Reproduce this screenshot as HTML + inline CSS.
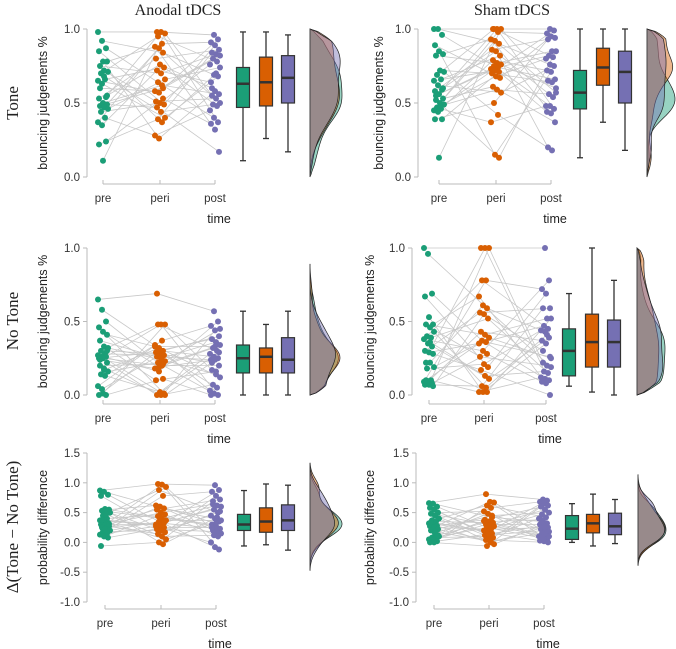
<!DOCTYPE html>
<html><head><meta charset="utf-8"><style>
html,body{margin:0;padding:0;background:#fff}
svg{display:block}
</style></head><body>
<svg id="chart" width="676" height="649" viewBox="0 0 676 649" xmlns="http://www.w3.org/2000/svg" font-family="Liberation Sans, sans-serif">
<text x="178" y="15" font-family="Liberation Serif, serif" font-size="16" text-anchor="middle" fill="#222">Anodal tDCS</text>
<text x="512" y="15" font-family="Liberation Serif, serif" font-size="16" text-anchor="middle" fill="#222">Sham tDCS</text>
<text transform="translate(18,103) rotate(-90)" font-family="Liberation Serif, serif" font-size="17" text-anchor="middle" fill="#222">Tone</text>
<text transform="translate(18,321) rotate(-90)" font-family="Liberation Serif, serif" font-size="17" text-anchor="middle" fill="#222">No Tone</text>
<text transform="translate(18,527) rotate(-90)" font-family="Liberation Serif, serif" font-size="17" text-anchor="middle" fill="#222">Δ(Tone − No Tone)</text>
</svg>
<script>
const groups = ["pre","peri","post"];
const colors = ["#1b9e77","#d95f02","#7570b3"];

// Anodal Tone
const aTonePre  = [.98,.92,.87,.85,.78,.78,.75,.72,.71,.7,.66,.65,.63,.54,.53,.5,.49,.48,.47,.46,.44,.4,.37,.35,.24,.22,.11,.55,.6,.68];
const aTonePeri = [.98,.98,.97,.95,.9,.88,.87,.84,.8,.76,.74,.72,.7,.66,.64,.62,.58,.57,.53,.51,.5,.49,.47,.44,.4,.39,.37,.28,.26,.6];
const aTonePost = [.96,.93,.91,.89,.86,.84,.83,.82,.8,.78,.76,.69,.68,.64,.58,.56,.55,.53,.5,.49,.48,.45,.4,.37,.36,.32,.17,.6,.7,.74];
const aToneBox  = [[0.11,0.47,0.63,0.74,0.98],[0.26,0.48,0.64,0.81,0.98],[0.17,0.50,0.67,0.82,0.96]];
// Anodal No Tone
const aNoPre  = [.65,.58,.5,.46,.43,.41,.37,.33,.32,.3,.28,.27,.26,.26,.25,.25,.22,.2,.17,.16,.14,.13,.06,.04,0,0,.01,.3,.24,.18];
const aNoPeri = [.69,.48,.48,.48,.37,.33,.32,.3,.29,.28,.27,.26,.25,.23,.22,.2,.18,.16,.11,.1,.02,.01,0,0,0,.3,.24,.34,.19,.21];
const aNoPost = [.57,.5,.47,.44,.4,.38,.36,.34,.32,.3,.28,.26,.25,.24,.24,.2,.17,.16,.12,.07,.05,.03,.01,0,0,.33,.29,.22,.14,.45];
const aNoBox  = [[0,0.15,0.25,0.34,0.57],[0,0.15,0.26,0.32,0.48],[0,0.15,0.24,0.39,0.57]];
// Anodal Delta
const aDPre  = [.87,.85,.8,.78,.56,.55,.53,.52,.5,.45,.4,.37,.35,.33,.3,.29,.27,.25,.23,.2,.18,.15,.13,.1,.08,-.06,.22,.31,.38,.47];
const aDPeri = [.98,.97,.93,.88,.78,.62,.6,.57,.55,.5,.47,.44,.4,.37,.35,.32,.3,.28,.25,.22,.2,.17,.14,.1,.05,0,-.03,.27,.42,.33];
const aDPost = [.96,.88,.85,.78,.72,.69,.62,.6,.55,.5,.45,.4,.35,.3,.27,.23,.2,.18,.15,.12,.1,0,-.08,-.12,.25,.32,.52,.64,.42,.37];
const aDBox  = [[-0.06,0.2,0.3,0.47,0.87],[-0.04,0.17,0.35,0.58,0.98],[-0.13,0.2,0.37,0.63,0.96]];
// Sham Tone
const sTonePre  = [1,1,.96,.89,.85,.83,.82,.72,.71,.69,.66,.65,.62,.59,.58,.56,.53,.52,.5,.49,.47,.46,.45,.44,.39,.39,.13,.6,.55,.48];
const sTonePeri = [1,1,1,1,.98,.93,.92,.9,.86,.85,.82,.79,.77,.76,.75,.74,.73,.72,.71,.7,.68,.67,.61,.59,.57,.5,.42,.37,.15,.13];
const sTonePost = [1,.99,.97,.95,.94,.93,.85,.85,.82,.81,.8,.76,.75,.72,.71,.66,.65,.64,.57,.56,.54,.48,.48,.46,.44,.43,.37,.2,.18,.6];
const sToneBox  = [[0.13,0.46,0.57,0.72,1],[0.37,0.62,0.74,0.87,1],[0.18,0.5,0.71,0.85,1]];
// Sham No Tone
const sNoPre  = [1,.96,.69,.67,.53,.48,.48,.46,.43,.4,.39,.38,.35,.33,.3,.29,.28,.22,.22,.19,.18,.1,.09,.09,.08,.07,.07,.06,.1,.36];
const sNoPeri = [1,1,1,.78,.78,.67,.61,.59,.56,.55,.52,.43,.41,.39,.37,.36,.35,.3,.28,.26,.21,.19,.17,.13,.11,.06,.05,.02,.02,.02];
const sNoPost = [1,.78,.72,.69,.59,.59,.52,.52,.47,.45,.44,.43,.39,.37,.35,.26,.22,.2,.19,.16,.15,.12,.11,.1,.09,.08,0,.3,.41,.25];
const sNoBox  = [[0.06,0.13,0.3,0.45,0.69],[0.02,0.19,0.36,0.55,1],[0,0.19,0.36,0.51,0.78]];
// Sham Delta
const sDPre  = [.66,.65,.6,.58,.55,.5,.48,.45,.4,.37,.35,.32,.3,.28,.27,.25,.22,.2,.15,.1,.08,.07,.05,.04,.02,0,0,.12,.34,.18];
const sDPeri = [.81,.68,.67,.62,.58,.52,.48,.42,.38,.35,.33,.3,.29,.27,.25,.22,.2,.18,.15,.12,.1,.08,.04,.02,-.03,-.06,0,.36,.14,.45];
const sDPost = [.72,.7,.68,.65,.62,.6,.55,.5,.47,.42,.4,.35,.32,.3,.28,.25,.22,.2,.18,.15,.12,.1,.07,.05,.03,.02,0,.38,.26,.1];
const sDBox  = [[0,0.05,0.23,0.45,0.65],[-0.06,0.16,0.32,0.47,0.81],[-0.02,0.13,0.27,0.49,0.72]];

const probTicks = [0,0.5,1.0];
const diffTicks = [-1.0,-0.5,0,0.5,1.0,1.5];

const panels = [
 {name:"anodal-tone", data:[aTonePre,aTonePeri,aTonePost], box:aToneBox, ticks:probTicks, clip:true, ylab:"bouncing judgements %", L:{ax:87,yTop:29,yBot:177,xs:[103,160,215],bx:[243,266,288],dx:310,xaxisY:184,ylabX:47,bw:0.1,dw:32}},
 {name:"anodal-no-tone", data:[aNoPre,aNoPeri,aNoPost], box:aNoBox, ticks:probTicks, clip:true, ylab:"bouncing judgements %", L:{ax:87,yTop:248,yBot:395,xs:[103,160,215],bx:[243,266,288],dx:310,xaxisY:404,ylabX:47,bw:0.08,dw:30}},
 {name:"anodal-delta", data:[aDPre,aDPeri,aDPost], box:aDBox, ticks:diffTicks, clip:false, ylab:"probability difference", L:{ax:87,yTop:453,yBot:602,xs:[105,161,216],bx:[244,266,288],dx:310,xaxisY:609,ylabX:47,bw:0.14,dw:32}},
 {name:"sham-tone", data:[sTonePre,sTonePeri,sTonePost], box:sToneBox, ticks:probTicks, clip:true, ylab:"bouncing judgements %", L:{ax:418,yTop:29,yBot:177,xs:[439,496,551],bx:[580,603,625],dx:647,xaxisY:184,ylabX:383,bw:0.08,dw:28}},
 {name:"sham-no-tone", data:[sNoPre,sNoPeri,sNoPost], box:sNoBox, ticks:probTicks, clip:true, ylab:"bouncing judgements %", L:{ax:412,yTop:248,yBot:395,xs:[429,484,546],bx:[569,592,614],dx:637,xaxisY:404,ylabX:374,bw:0.11,dw:28}},
 {name:"sham-delta", data:[sDPre,sDPeri,sDPost], box:sDBox, ticks:diffTicks, clip:false, ylab:"probability difference", L:{ax:416,yTop:453,yBot:602,xs:[434,489,544],bx:[572,593,615],dx:638,xaxisY:609,ylabX:374,bw:0.13,dw:28}}
];

const svg = document.getElementById("chart");
const NS = "http://www.w3.org/2000/svg";
function mk(tag, attrs, parent){
  const e = document.createElementNS(NS, tag);
  for (const k in attrs) e.setAttribute(k, attrs[k]);
  (parent||svg).appendChild(e);
  return e;
}

panels.forEach(p => {
  const L = p.L;
  const tmin = p.ticks[0], tmax = p.ticks[p.ticks.length-1];
  const y = v => L.yBot - (v - tmin) / (tmax - tmin) * (L.yBot - L.yTop);
  const g = mk("g", {});
  
  

  const ya = mk("line", {x1:L.ax, x2:L.ax, y1:y(tmax), y2:y(tmin), stroke:"#bbb", "stroke-width":1}, g);
  
  
  p.ticks.forEach(t => {
    const tk = mk("line", {x1:L.ax-4, x2:L.ax, y1:y(t), y2:y(t), stroke:"#bbb"}, g);
    
    
    const tl = mk("text", {x:L.ax-7, y:y(t)+4, "font-size":11.5, "text-anchor":"end", fill:"#333"}, g);
    
    
    tl.textContent = t.toFixed(1);
  });
  const yl = mk("text", {transform:`translate(${L.ylabX},${(L.yTop+L.yBot)/2}) rotate(-90)`, "font-size":12.5, "text-anchor":"middle", fill:"#222"}, g);
  
  
  yl.textContent = p.ylab;

  const xa = mk("line", {x1:L.xs[0], x2:L.xs[2], y1:L.xaxisY, y2:L.xaxisY, stroke:"#bbb"}, g);
  
  
  groups.forEach((gn, i) => {
    const tk = mk("line", {x1:L.xs[i], x2:L.xs[i], y1:L.xaxisY, y2:L.xaxisY-4, stroke:"#bbb"}, g);
    
    
    const tl = mk("text", {x:L.xs[i], y:L.xaxisY+18, "font-size":11.5, "text-anchor":"middle", fill:"#333"}, g);
    
    
    tl.textContent = gn;
  });
  const xt = mk("text", {x:L.xs[2]+4, y:L.xaxisY+39, "font-size":12.5, "text-anchor":"middle", fill:"#222"}, g);
  
  
  xt.textContent = "time";

  const [a, b, c] = p.data;
  const jit = (i, k) => (((i * 37 + k * 13) % 11) - 5) * 1.0;
  for (let i = 0; i < a.length; i++) {
    const j = (i * 7) % b.length, k = (i * 11) % c.length;
    const pl = mk("polyline", {points:`${L.xs[0]+jit(i,0)},${y(a[i])} ${L.xs[1]+jit(j,1)},${y(b[j])} ${L.xs[2]+jit(k,2)},${y(c[k])}`, fill:"none", stroke:"#c8c8c8", "stroke-width":0.8}, g);
    
    
  }
  p.data.forEach((arr, gi) => {
    arr.forEach((v, i) => {
      const pt = mk("circle", {cx:L.xs[gi]+jit(i,gi), cy:y(v), r:3, fill:colors[gi]}, g);
      
      
    });
  });
  p.box.forEach((s, gi) => {
    const cx = L.bx[gi], hw = 6.5;
    const w = mk("line", {x1:cx, x2:cx, y1:y(s[0]), y2:y(s[4]), stroke:"#333", "stroke-width":1.3}, g);
    
    
    [s[0], s[4]].forEach(v => {
      const cap = mk("line", {x1:cx-3, x2:cx+3, y1:y(v), y2:y(v), stroke:"#333", "stroke-width":1.3}, g);
      
      
    });
    const r = mk("rect", {x:cx-hw, y:y(s[3]), width:hw*2, height:y(s[1])-y(s[3]), fill:colors[gi], stroke:"#333", "stroke-width":1.2}, g);
    
    
    const m = mk("line", {x1:cx-hw, x2:cx+hw, y1:y(s[2]), y2:y(s[2]), stroke:"#333", "stroke-width":2.5}, g);
    
    
  });
  const curves = p.data.map(arr => {
    let lo = Math.min(...arr) - 2.5 * L.bw, hi = Math.max(...arr) + 2.5 * L.bw;
    if (p.clip) { lo = Math.max(lo, tmin); hi = Math.min(hi, tmax); }
    const pts = [];
    for (let s = 0; s <= 60; s++) {
      const v = lo + (hi - lo) * s / 60;
      let d = 0;
      arr.forEach(x => { const z = (v - x) / L.bw; d += Math.exp(-0.5 * z * z); });
      let taper = 1;
      if (p.clip) {
        const e = Math.min(v - tmin, tmax - v) / (L.bw * 0.8);
        taper = Math.min(1, Math.max(0, e));
        taper = Math.sqrt(taper);
      }
      pts.push([v, d / arr.length * taper]);
    }
    return pts;
  });
  const dmax = Math.max(...curves.flat().map(q => q[1]));
  let vmin = Infinity, vmax = -Infinity;
  curves.forEach((pts, gi) => {
    vmin = Math.min(vmin, pts[0][0]); vmax = Math.max(vmax, pts[pts.length-1][0]);
    let dstr = `M${L.dx},${y(pts[0][0])}`;
    pts.forEach(q => { dstr += ` L${L.dx + q[1] / dmax * L.dw},${y(q[0])}`; });
    dstr += ` L${L.dx},${y(pts[pts.length-1][0])} Z`;
    const dp = mk("path", {d:dstr, fill:colors[gi], "fill-opacity":0.45, stroke:"#222", "stroke-width":0.7}, g);
    
    
  });
  const base = mk("line", {x1:L.dx, x2:L.dx, y1:y(vmax), y2:y(vmin), stroke:"#444", "stroke-width":1}, g);
  
  
});
</script>
</body></html>
